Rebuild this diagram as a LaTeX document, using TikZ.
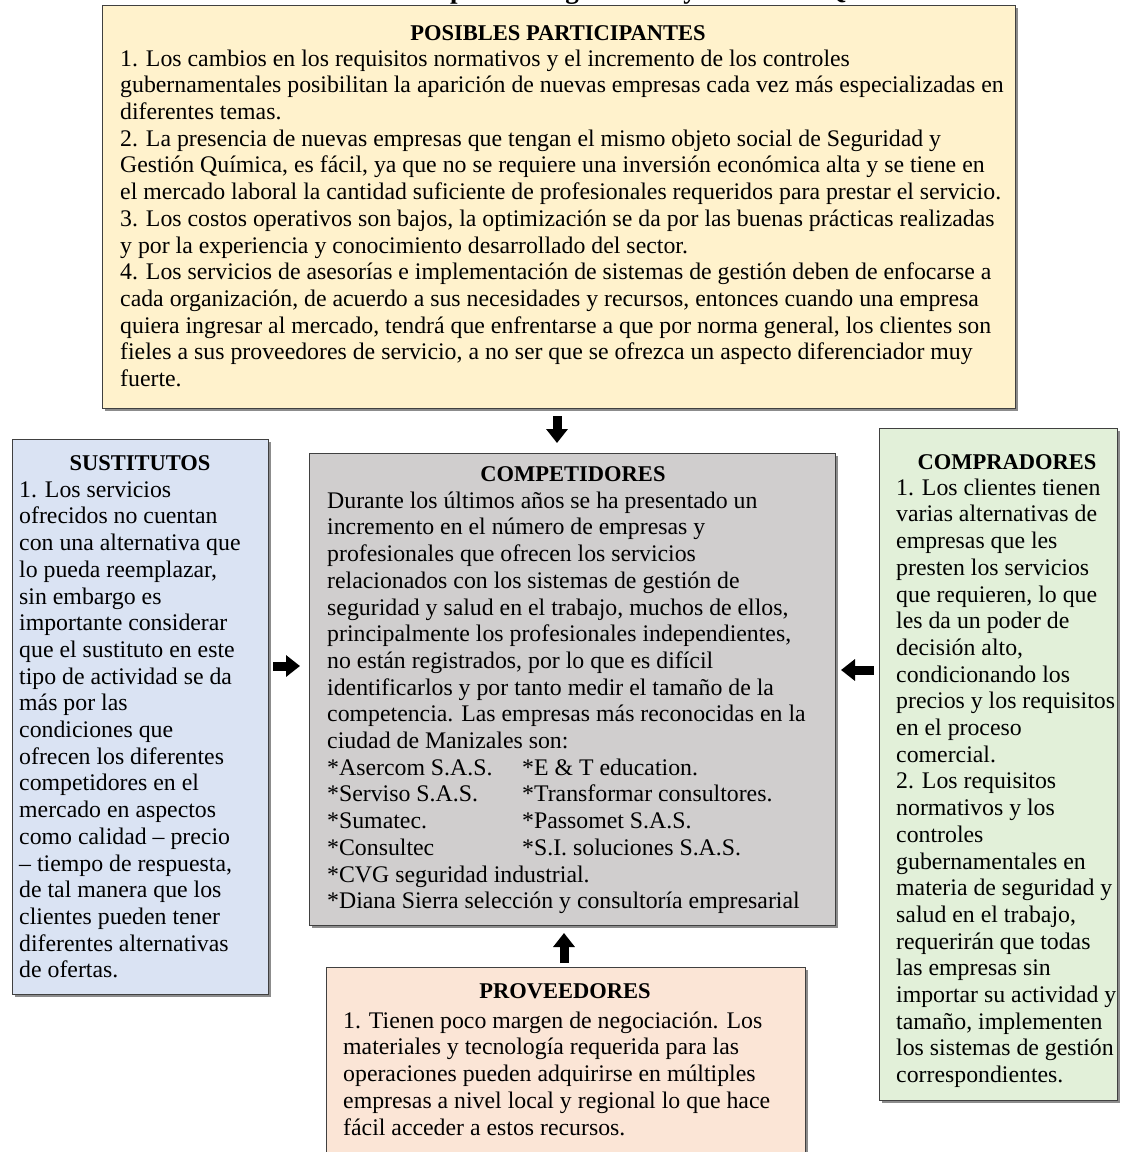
\documentclass[tikz,border=0pt]{standalone}
\usepackage{fontspec}
\setmainfont{Liberation Serif}
\usetikzlibrary{arrows.meta,shadows}
\definecolor{cyel}{HTML}{FFF2CC}
\definecolor{cblue}{HTML}{DAE3F3}
\definecolor{cgray}{HTML}{D0CECE}
\definecolor{cgreen}{HTML}{E2F0D9}
\definecolor{cpink}{HTML}{FBE5D6}
\definecolor{cborder}{HTML}{404040}
\tikzset{
  box/.style={draw=cborder, line width=1pt, inner sep=0pt, anchor=north west,
    drop shadow={shadow xshift=2pt, shadow yshift=-2pt, fill=black!45, opacity=1}},
  ttl/.style={font=\bfseries\fontsize{22.5}{26}\selectfont, inner sep=0pt, anchor=center},
  body/.style={font=\fontsize{23.8}{26.7}\selectfont, inner sep=0pt, anchor=north west, align=left},
  frag/.style={font=\bfseries\fontsize{27}{30}\selectfont, inner sep=0pt},
  fat/.style={line width=9pt, -{Triangle[width=21pt,length=14pt]}}
}
\begin{document}
\begin{tikzpicture}[x=1pt,y=-1pt]
\useasboundingbox (0,0) rectangle (1125,1152);
\clip (0,0) rectangle (1125,1152);
\fill[white] (0,0) rectangle (1125,1152);

% cut-off title (only descenders visible)
\node[frag, anchor=base west] (tp) at (450,-1.5) {p};
\node[frag, anchor=base] (tg) at (572,-1.5) {g};
\node[frag, anchor=base] (ty) at (690,-1.5) {y};
\node[frag, anchor=base] (tq) at (836,-1.5) {Q};

% boxes
\node[box, fill=cyel, minimum width=913pt, minimum height=403pt] (pp) at (102,5) {};
\node[box, fill=cblue, minimum width=256pt, minimum height=555pt] (sust) at (12,439) {};
\node[box, fill=cgray, minimum width=526pt, minimum height=472pt] (comp) at (309,453) {};
\node[box, fill=cgreen, minimum width=238pt, minimum height=672pt] (compr) at (879,428) {};
\node[box, fill=cpink, minimum width=479pt, minimum height=220pt] (prov) at (326,967) {};

% POSIBLES PARTICIPANTES
\node[ttl] (ppt) at (558,33) {POSIBLES PARTICIPANTES};
\node[body] (ppb) at (120,47.3) {\strut 1. Los cambios en los requisitos normativos y el incremento de los controles\\
gubernamentales posibilitan la aparición de nuevas empresas cada vez más especializadas en\\
diferentes temas.\\
2. La presencia de nuevas empresas que tengan el mismo objeto social de Seguridad y\\
Gestión Química, es fácil, ya que no se requiere una inversión económica alta y se tiene en\\
el mercado laboral la cantidad suficiente de profesionales requeridos para prestar el servicio.\\
3. Los costos operativos son bajos, la optimización se da por las buenas prácticas realizadas\\
y por la experiencia y conocimiento desarrollado del sector.\\
4. Los servicios de asesorías e implementación de sistemas de gestión deben de enfocarse a\\
cada organización, de acuerdo a sus necesidades y recursos, entonces cuando una empresa\\
quiera ingresar al mercado, tendrá que enfrentarse a que por norma general, los clientes son\\
fieles a sus proveedores de servicio, a no ser que se ofrezca un aspecto diferenciador muy\\
fuerte.};

% SUSTITUTOS
\node[ttl] (sustt) at (140,463) {SUSTITUTOS};
\node[body] (sustb) at (19,478.3) {\strut 1. Los servicios\\
ofrecidos no cuentan\\
con una alternativa que\\
lo pueda reemplazar,\\
sin embargo es\\
importante considerar\\
que el sustituto en este\\
tipo de actividad se da\\
más por las\\
condiciones que\\
ofrecen los diferentes\\
competidores en el\\
mercado en aspectos\\
como calidad – precio\\
– tiempo de respuesta,\\
de tal manera que los\\
clientes pueden tener\\
diferentes alternativas\\
de ofertas.};

% COMPETIDORES
\node[ttl] (compt) at (573,474) {COMPETIDORES};
\node[body] (compb) at (327,489.3) {\strut Durante los últimos años se ha presentado un\\
incremento en el número de empresas y\\
profesionales que ofrecen los servicios\\
relacionados con los sistemas de gestión de\\
seguridad y salud en el trabajo, muchos de ellos,\\
principalmente los profesionales independientes,\\
no están registrados, por lo que es difícil\\
identificarlos y por tanto medir el tamaño de la\\
competencia. Las empresas más reconocidas en la\\
ciudad de Manizales son:\\
\makebox[195pt][l]{*Asercom S.A.S.}*E \& T education.\\
\makebox[195pt][l]{*Serviso S.A.S.}*Transformar consultores.\\
\makebox[195pt][l]{*Sumatec.}*Passomet S.A.S.\\
\makebox[195pt][l]{*Consultec}*S.I. soluciones S.A.S.\\
*CVG seguridad industrial.\\
*Diana Sierra selección y consultoría empresarial};

% COMPRADORES
\node[ttl] (comprt) at (1007,462) {COMPRADORES};
\node[body] (comprb) at (896,476.3) {\strut 1. Los clientes tienen\\
varias alternativas de\\
empresas que les\\
presten los servicios\\
que requieren, lo que\\
les da un poder de\\
decisión alto,\\
condicionando los\\
precios y los requisitos\\
en el proceso\\
comercial.\\
2. Los requisitos\\
normativos y los\\
controles\\
gubernamentales en\\
materia de seguridad y\\
salud en el trabajo,\\
requerirán que todas\\
las empresas sin\\
importar su actividad y\\
tamaño, implementen\\
los sistemas de gestión\\
correspondientes.};

% PROVEEDORES
\node[ttl] (provt) at (565,991) {PROVEEDORES};
\node[body] (provb) at (343,1009.3) {\strut 1. Tienen poco margen de negociación. Los\\
materiales y tecnología requerida para las\\
operaciones pueden adquirirse en múltiples\\
empresas a nivel local y regional lo que hace\\
fácil acceder a estos recursos.};

% arrows
\draw[fat, shorten <=7pt, shorten >=10pt] (pp.south -| 557,0) -- (comp.north -| 557,0);
\draw[fat, shorten <=4pt, shorten >=9pt] (sust.east |- 0,666) -- (comp.west |- 0,666);
\draw[fat, shorten <=5pt, shorten >=5pt] (compr.west |- 0,670) -- (comp.east |- 0,670);
\draw[fat, shorten <=4pt, shorten >=7pt] (prov.north -| 564,0) -- (comp.south -| 564,0);
\end{tikzpicture}
\end{document}
